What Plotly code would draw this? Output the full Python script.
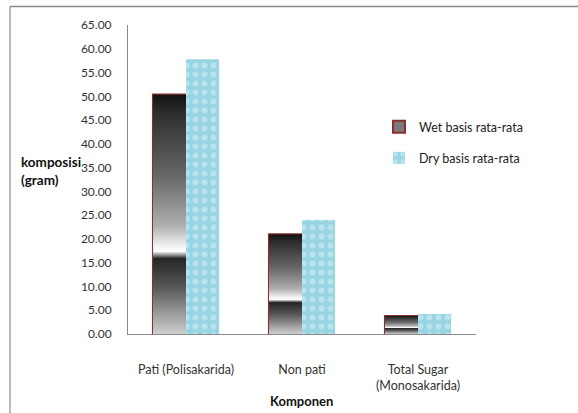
import base64
import plotly.graph_objects as go

categories = ["Pati (Polisakarida)", "Non pati", "Total Sugar<br>(Monosakarida)"]
wet_values = [50.4, 21.0, 3.8]
dry_values = [57.8, 24.0, 4.2]
wet_name = "Wet basis rata-rata"
dry_name = "Dry basis rata-rata"
y_ticks = [i * 5 for i in range(14)]
y_tick_labels = [f"{v:.2f}" for v in y_ticks]

FONT = "Lato, Open Sans, Arial"
W = 0.285

grad_svg = (
    '<svg xmlns="http://www.w3.org/2000/svg" width="10" height="100" preserveAspectRatio="none" viewBox="0 0 10 100">'
    '<defs><linearGradient id="g" x1="0" y1="0" x2="0" y2="1">'
    '<stop offset="0" stop-color="#111111"/>'
    '<stop offset="0.08" stop-color="#2e2e2e"/>'
    '<stop offset="0.35" stop-color="#6a6a6a"/>'
    '<stop offset="0.55" stop-color="#b0b0b0"/>'
    '<stop offset="0.63" stop-color="#f0f0f0"/>'
    '<stop offset="0.655" stop-color="#ffffff"/>'
    '<stop offset="0.685" stop-color="#262626"/>'
    '<stop offset="0.8" stop-color="#555555"/>'
    '<stop offset="1" stop-color="#cfcfcf"/>'
    '</linearGradient></defs>'
    '<rect x="0" y="0" width="10" height="100" fill="url(#g)"/></svg>'
)
grad_uri = "data:image/svg+xml;base64," + base64.b64encode(grad_svg.encode()).decode()

fig = go.Figure()
fig.add_trace(go.Bar(
    x=list(range(len(categories))), y=wet_values, name=wet_name,
    width=W, offset=-W,
    marker=dict(color="#7a7a7a", line=dict(color="#8b2e2e", width=2)),
    legendgroup="a",
))
fig.add_trace(go.Bar(
    x=list(range(len(categories))), y=dry_values, name=dry_name,
    width=W, offset=0,
    marker=dict(color="#9fd8e5", line=dict(width=0),
                pattern=dict(shape=".", fgcolor="#d9f3f8", bgcolor="#98d4e2",
                             size=9, solidity=0.35)),
    legendgroup="b",
))

images = []
for i, v in enumerate(wet_values):
    images.append(dict(source=grad_uri, xref="x", yref="y", x=i - W, y=v,
                       sizex=W, sizey=v, xanchor="left", yanchor="top",
                       sizing="stretch", layer="above"))

L, R, T, B = 128, 102, 25, 79
pw, ph = 578 - L - R, 413 - T - B

def px(xp):
    return (xp - L) / pw

def py(yp):
    return (413 - B - yp) / ph

shapes = [
    dict(type="line", xref="paper", yref="paper", x0=px(10), x1=px(590), y0=py(6.5), y1=py(6.5),
         line=dict(color="#8a8a8a", width=1.5)),
    dict(type="line", xref="paper", yref="paper", x0=px(10), x1=px(10), y0=py(6.5), y1=py(420),
         line=dict(color="#8a8a8a", width=1.2)),
]

fig.update_layout(
    width=578, height=413,
    margin=dict(l=L, r=R, t=T, b=B),
    paper_bgcolor="white", plot_bgcolor="white",
    font=dict(family=FONT, size=12, color="#333333"),
    images=images, shapes=shapes,
    legend=dict(x=px(379), y=py(112), xanchor="left", yanchor="top",
                font=dict(size=12.5, color="#222222"), tracegroupgap=12,
                bgcolor="rgba(0,0,0,0)", itemwidth=30),
    showlegend=True,
    annotations=[
        dict(text="<b>komposisi<br>(gram)</b>", xref="paper", yref="paper",
             x=px(19), y=py(171), xanchor="left", yanchor="middle", align="left",
             showarrow=False, font=dict(size=13.5, color="#111111")),
        dict(text="<b>Komponen</b>", xref="paper", yref="paper",
             x=px(301), y=py(401), xanchor="center", yanchor="middle",
             showarrow=False, font=dict(size=13, color="#111111")),
    ],
)
fig.update_xaxes(
    range=[-0.5, 2.5], tickmode="array", tickvals=list(range(len(categories))),
    ticktext=categories, showline=True, linecolor="#8a8a8a", linewidth=1,
    showgrid=False, zeroline=False, ticks="", ticklabelstandoff=24,
    tickfont=dict(size=12.5, color="#333333"),
)
fig.update_yaxes(
    range=[0, 65], tickmode="array", tickvals=y_ticks, ticktext=y_tick_labels,
    showline=True, linecolor="#8a8a8a", linewidth=1, showgrid=False, zeroline=False,
    ticks="", ticklabelstandoff=13, tickfont=dict(size=12, color="#333333"),
)

fig.write_html("out.html")
